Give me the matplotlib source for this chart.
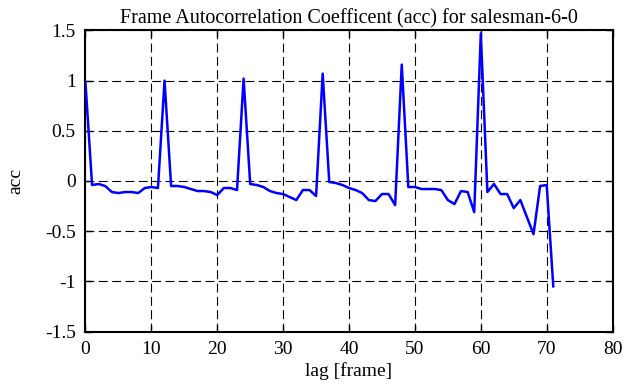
import matplotlib
matplotlib.use("Agg")
import matplotlib.pyplot as plt
import numpy as np

lags = list(range(72))
acc = [0.98, -0.04, -0.03, -0.05, -0.11, -0.12, -0.11, -0.11, -0.12, -0.07,
       -0.06, -0.07, 1.00, -0.05, -0.05, -0.06, -0.08, -0.10, -0.10, -0.11,
       -0.14, -0.07, -0.07, -0.09, 1.02, -0.03, -0.04, -0.06, -0.10, -0.12,
       -0.13, -0.16, -0.19, -0.09, -0.09, -0.15, 1.07, -0.01, -0.02, -0.04,
       -0.07, -0.09, -0.12, -0.19, -0.20, -0.13, -0.13, -0.24, 1.16, -0.06,
       -0.06, -0.08, -0.08, -0.08, -0.09, -0.19, -0.23, -0.10, -0.11, -0.31,
       1.47, -0.11, -0.03, -0.13, -0.13, -0.27, -0.19, -0.36, -0.53, -0.05,
       -0.04, -1.05]
xticks = [0, 10, 20, 30, 40, 50, 60, 70, 80]
yticks = [-1.5, -1, -0.5, 0, 0.5, 1, 1.5]
ytick_labels = ["-1.5", "-1", "-0.5", "0", "0.5", "1", "1.5"]

plt.rcParams['font.family'] = ['Liberation Serif', 'DejaVu Serif']
plt.rcParams['font.size'] = 14

fig = plt.figure(figsize=(6.35, 3.87), dpi=100)
ax = fig.add_axes([0.1346, 0.1434, 0.9647 - 0.1346, 0.9212 - 0.1434])
ax.plot(lags, acc, color=(0, 0, 1), lw=1.8, zorder=3)
ax.set_xlim(0, 80)
ax.set_ylim(-1.5, 1.5)
ax.set_xticks(xticks)
ax.set_yticks(yticks)
ax.set_yticklabels(ytick_labels)
ax.grid(True, color='black', lw=0.8, linestyle=(0, (8.0, 4.0)))
ax.tick_params(direction='in', length=5, width=1, top=True, right=True,
               labelsize=14, pad=7)
for s in ax.spines.values():
    s.set_linewidth(1.5)
ax.set_title("Frame Autocorrelation Coefficent (acc) for salesman-6-0",
             fontsize=14.5, pad=5)
ax.set_xlabel("lag [frame]", fontsize=14, labelpad=3)
ax.set_ylabel("acc", fontsize=14, labelpad=15)
fig.savefig("out.png", dpi=100)
